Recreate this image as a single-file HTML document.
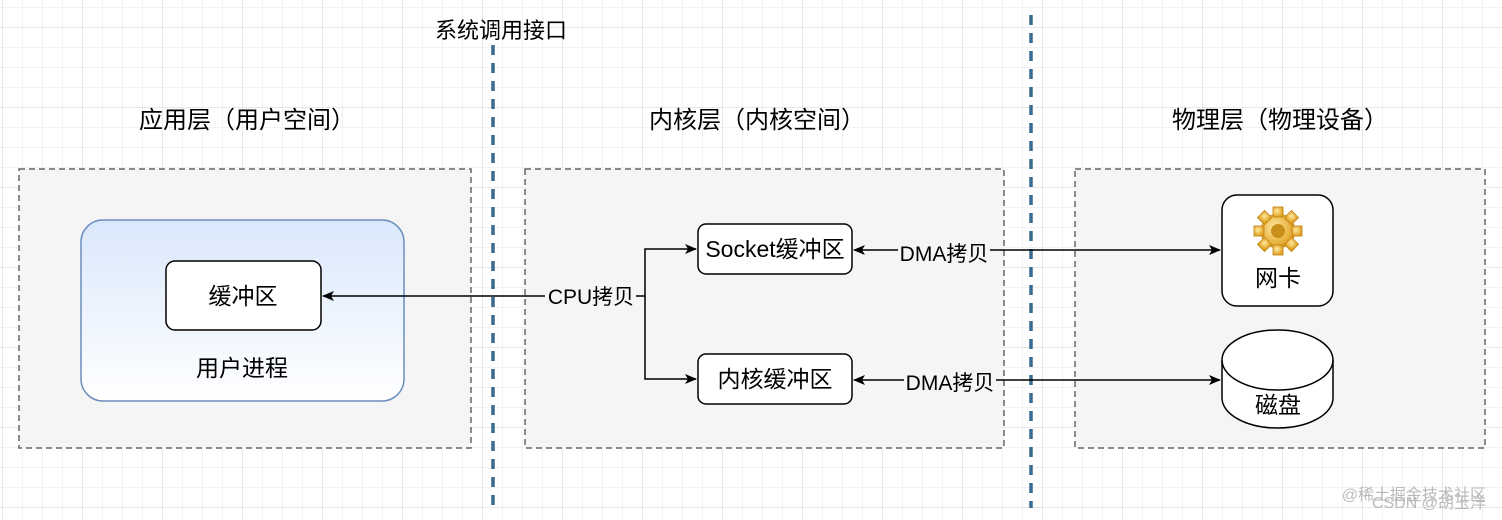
<!DOCTYPE html>
<html><head><meta charset="utf-8"><style>
body{margin:0;width:1502px;height:520px;overflow:hidden;background:#fff;font-family:"Liberation Sans","Noto Sans CJK SC",sans-serif;}
</style></head><body>
<svg width="1502" height="520" xmlns="http://www.w3.org/2000/svg" style="position:absolute;left:0;top:0">
<defs>
<pattern id="g" x="3" y="8" width="20" height="20" patternUnits="userSpaceOnUse"><path d="M20 0V20M0 20H20" fill="none" stroke="#e6e6e6" stroke-width="1"/></pattern>
<pattern id="G" x="3" y="28" width="80" height="80" patternUnits="userSpaceOnUse"><path d="M80 0V80M0 80H80" fill="none" stroke="#d0d0d0" stroke-width="1"/></pattern>
<linearGradient id="bl" x1="0" y1="0" x2="0" y2="1"><stop offset="0" stop-color="#dae8fc"/><stop offset="1" stop-color="#ffffff"/></linearGradient>
<radialGradient id="gear" cx="0.4" cy="0.4" r="0.6"><stop offset="0" stop-color="#ffe9a0"/><stop offset="1" stop-color="#e0a020"/></radialGradient>
<marker id="a" markerWidth="12" markerHeight="10" refX="11" refY="5" orient="auto" markerUnits="userSpaceOnUse"><path d="M0 0L12 5L0 10L3 5Z" fill="#000"/></marker>
</defs>
<rect width="1502" height="520" fill="url(#g)"/>
<rect width="1502" height="520" fill="url(#G)"/>
<g fill="#f5f5f5" stroke="#666" stroke-dasharray="6 4" stroke-width="1.5">
<rect x="19" y="169" width="452" height="279"/>
<rect x="525" y="169" width="479" height="279"/>
<rect x="1075" y="169" width="410" height="279"/>
</g>
<g stroke="#3a6a8c" stroke-width="3.5" stroke-dasharray="10 8">
<line x1="493" y1="45" x2="493" y2="508"/>
<line x1="1031" y1="15" x2="1031" y2="508"/>
</g>
<g fill="#000" text-anchor="middle">
<text x="501" y="38" font-size="22">系统调用接口</text>
<text x="247" y="128" font-size="24">应用层（用户空间）</text>
<text x="757" y="128" font-size="24">内核层（内核空间）</text>
<text x="1280" y="128" font-size="24">物理层（物理设备）</text>
</g>
<rect x="81" y="220" width="323" height="181" rx="22" fill="url(#bl)" stroke="#6c8ebf" stroke-width="1.5"/>
<rect x="166" y="261" width="155" height="69" rx="9" fill="#fff" stroke="#000" stroke-width="1.5"/>
<rect x="698" y="224" width="154" height="50" rx="8" fill="#fff" stroke="#000" stroke-width="1.5"/>
<rect x="698" y="354" width="154" height="50" rx="8" fill="#fff" stroke="#000" stroke-width="1.5"/>
<rect x="1222" y="195" width="111" height="111" rx="15" fill="#fff" stroke="#000" stroke-width="1.5"/>
<path d="M1222 360 A55.5 30 0 0 1 1333 360 V398 A55.5 30 0 0 1 1222 398Z" fill="#fff" stroke="#000" stroke-width="1.5"/>
<path d="M1222 360 A55.5 30 0 0 0 1333 360" fill="none" stroke="#000" stroke-width="1.5"/>
<g transform="translate(1278,231)">
<g fill="url(#gear)" stroke="#c08010" stroke-width="0.8">
<circle r="17"/>
<g><rect x="-5" y="-24" width="10" height="10"/><rect x="-5" y="14" width="10" height="10"/><rect x="-24" y="-5" width="10" height="10"/><rect x="14" y="-5" width="10" height="10"/></g>
<g transform="rotate(45)"><rect x="-5" y="-24" width="10" height="10"/><rect x="-5" y="14" width="10" height="10"/><rect x="-24" y="-5" width="10" height="10"/><rect x="14" y="-5" width="10" height="10"/></g>
</g>
<circle r="7" fill="#c8901a"/>
</g>
<g fill="none" stroke="#000" stroke-width="1.5">
<path d="M545 296 H323" marker-end="url(#a)"/>
<path d="M636 296 H645 V249 H696" marker-end="url(#a)"/>
<path d="M645 296 V379 H696" marker-end="url(#a)"/>
<path d="M898 250 H854" marker-end="url(#a)"/>
<path d="M990 250 H1220" marker-end="url(#a)"/>
<path d="M904 380 H854" marker-end="url(#a)"/>
<path d="M996 380 H1220" marker-end="url(#a)"/>
</g>
<g font-size="23" fill="#000" text-anchor="middle">
<text x="243" y="304">缓冲区</text>
<text x="242" y="376">用户进程</text>
<text x="775" y="257">Socket缓冲区</text>
<text x="775" y="387">内核缓冲区</text>
<text x="1278" y="286">网卡</text>
<text x="1278" y="413">磁盘</text>
</g>
<g font-size="21" fill="#000" text-anchor="middle">
<text x="591" y="304">CPU拷贝</text>
<text x="944" y="261">DMA拷贝</text>
<text x="950" y="390">DMA拷贝</text>
</g>
<g font-size="16" fill="#bbb" text-anchor="end">
<text x="1486" y="500">@稀土掘金技术社区</text>
<text x="1486" y="508">CSDN @胡玉洋</text>
</g>
</svg>
</body></html>
